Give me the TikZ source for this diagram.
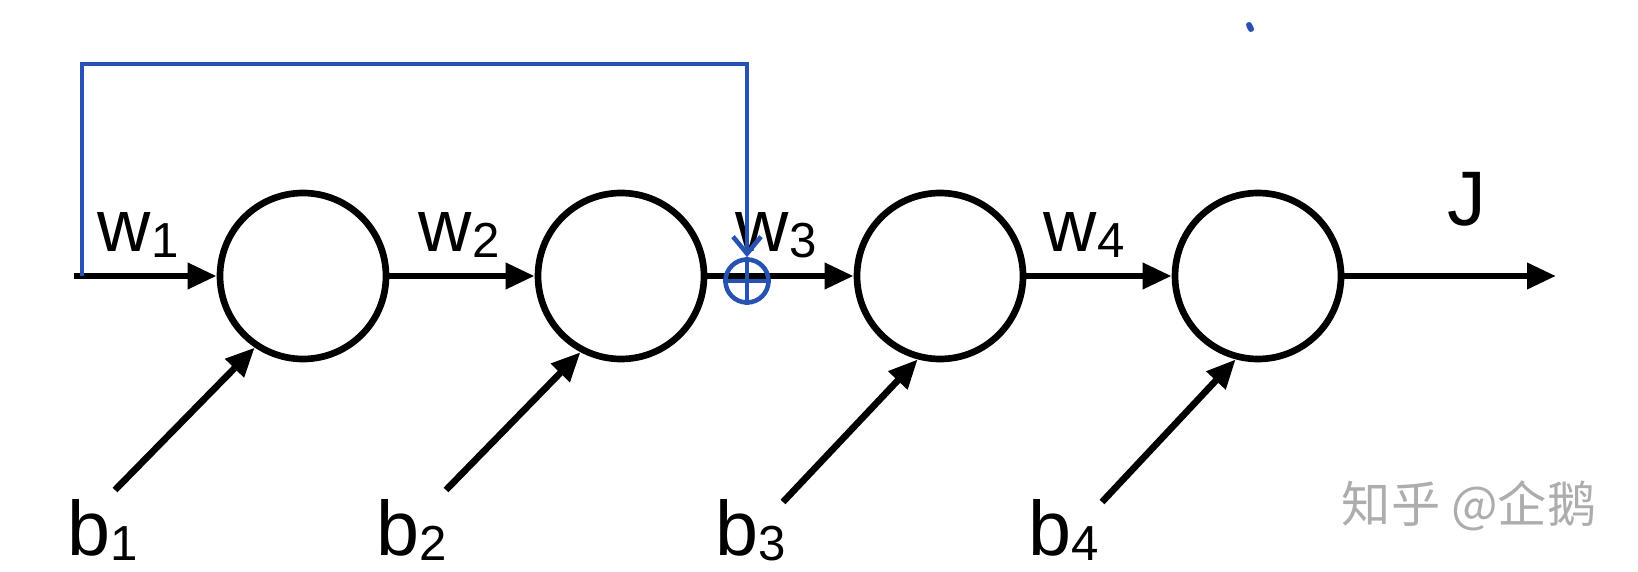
\documentclass[tikz,border=0pt]{standalone}
\usepackage{fontspec}
\setmainfont{Liberation Sans}
\newfontfamily\cjk{Noto Sans CJK SC}
\usepackage{tikz}
\usetikzlibrary{arrows.meta, positioning}

\definecolor{penblue}{RGB}{38,82,178}
\newcommand{\sublab}[2]{#1\raisebox{-1.6pt}{\fontsize{14}{14}\selectfont #2}}

\tikzset{
    neuron/.style={circle, draw, line width=1.9pt, minimum size=1.66cm, inner sep=0pt},
    arr/.style={line width=1.9pt, -{Triangle[length=0.29cm, width=0.25cm]}},
    fb/.style={penblue, line width=1.3pt},
    wlab/.style={anchor=base west, inner sep=0pt, font=\fontsize{21}{21}\selectfont},
    blab/.style={anchor=base west, inner sep=0pt, font=\fontsize{22}{22}\selectfont}
}

\begin{document}
\begin{tikzpicture}[x=1cm, y=-1cm]
            \useasboundingbox (0,0) rectangle (16.38,5.72);

            % Neurons
            \node[neuron] (c1) at (3.03,2.76) {};
            \node[neuron] (c2) at (6.21,2.76) {};
            \node[neuron] (c3) at (9.40,2.76) {};
            \node[neuron] (c4) at (12.58,2.76) {};

            \coordinate (in) at (0.74,2.76);
            \coordinate (out) at (15.56,2.76);
            \coordinate (fbin) at (0.82,2.76);
            \coordinate (fbtop) at (7.47,0.64);

            % Forward chain
            \draw[arr] (in) -- (c1);
            \draw[arr] (c1) -- (c2);
            \draw[arr] (c2) -- (c3);
            \draw[arr] (c3) -- (c4);
            \draw[arr] (c4) -- (out);

            % Weights and output
            \node[wlab] (w1) at (0.97,2.52) {\sublab{w}{1}};
            \node[wlab] (w2) at (4.18,2.52) {\sublab{w}{2}};
            \node[wlab] (w3) at (7.35,2.52) {\sublab{w}{3}};
            \node[wlab] (w4) at (10.43,2.52) {\sublab{w}{4}};
            \node[blab] (J) at (14.47,2.26) {J};

            % Biases
            \node[blab] (b1) at (0.67,5.55) {\sublab{b}{1}};
            \node[blab] (b2) at (3.76,5.55) {\sublab{b}{2}};
            \node[blab] (b3) at (7.15,5.55) {\sublab{b}{3}};
            \node[blab] (b4) at (10.28,5.55) {\sublab{b}{4}};

            \coordinate (s1) at (1.15,4.90);
            \coordinate (s2) at (4.46,4.90);
            \coordinate (s3) at (7.83,5.02);
            \coordinate (s4) at (11.02,5.02);

            \draw[arr] (s1) -- (c1.236);
            \draw[arr] (s2) -- (c2.242);
            \draw[arr] (s3) -- (c3.255);
            \draw[arr] (s4) -- (c4.255);

            % Skip connection (pen)
            \node[fb, draw, circle, minimum size=0.43cm, inner sep=0pt] (sum) at (7.47,2.81) {};
            \draw[fb] (sum.north) -- (sum.south);
            \draw[fb] (sum.west) -- (sum.east);
            \draw[fb, -{Straight Barb[length=0.17cm, width=0.28cm]}] (fbin) |- (fbtop) -- (sum.north);
            \draw[fb, line width=1.7pt, line cap=round] (12.49,0.25) -- (12.51,0.29);

            % Watermark
            \node[text=black!32, font=\cjk\fontsize{14}{14}\selectfont] (mark) at (14.69,5.06) {知乎 @企鹅};
        \end{tikzpicture}
\end{document}
